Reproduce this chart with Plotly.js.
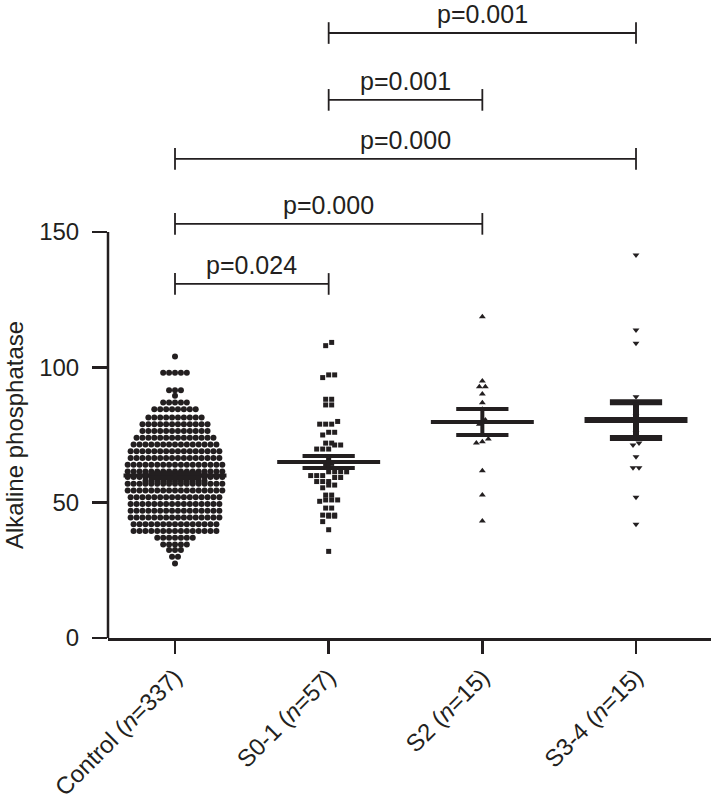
<!DOCTYPE html>
<html><head><meta charset="utf-8">
<script src="https://cdn.plot.ly/plotly-3.0.1.min.js"></script>
<style>body{margin:0;background:#fff}#chart{width:711px;height:800px}</style>
</head><body><div id="chart"></div>
<script>
// ---------- data ----------
const categories = ['Control (<i>n</i>=337)', 'S0-1 (<i>n</i>=57)', 'S2 (<i>n</i>=15)', 'S3-4 (<i>n</i>=15)'];
// Control dot-plot: value of each row of dots and how many dots sit in it
const controlRowValues = [104, 98, 91.5, 89.5, 87, 84.5, 81.5, 79, 76.5, 74, 71.5, 69, 66.5, 64, 61.5, 60.5, 59.5, 58, 57, 54.5, 52, 49.5, 47, 44.5, 42, 39.5, 37, 34.5, 32.5, 30, 27.5];
const controlRowCounts = [1, 5, 3, 1, 5, 8, 10, 12, 12, 14, 15, 16, 16, 17, 17, 11, 17, 11, 17, 17, 16, 16, 16, 16, 15, 15, 7, 5, 3, 2, 1];
const s01Values = [109.2, 108.0, 97.2, 96.2, 97.2, 88.2, 86.1, 86.1, 88.2, 79, 79, 79, 80, 76, 75, 76, 72, 72, 71.3, 71.3, 69.8, 69.8, 69.8,
  66.5, 64.5, 63.5, 61.4, 61.4, 61.4, 61.4, 60, 60, 60, 59.3, 59.3, 57.8, 57.8, 57.8, 56.5, 56.5, 55.5, 52.8, 52.8, 51, 51, 51, 50.5,
  48, 48, 45.4, 45.4, 45.4, 45, 45, 43, 40, 32];
const s2Values = [118.7, 94.9, 92.8, 92.8, 90.1, 86.9, 84.5, 80.5, 79, 73.5, 72.5, 72, 61.8, 52.8, 43.2];
const s34Values = [141.5, 113.8, 108.9, 89.1, 86, 82, 80, 75.9, 72, 71.3, 67, 62.9, 62.9, 52, 42];
const groupMeans = [60, 65, 79.8, 80.5];
const groupSems = [0.9, 2.2, 4.8, 6.6];
const comparisonPairs = [[0, 1], [0, 2], [0, 3], [1, 2], [1, 3]];
const comparisonP = ['p=0.024', 'p=0.000', 'p=0.000', 'p=0.001', 'p=0.001'];
const yTicks = [0, 50, 100, 150];

// ---------- layout helpers ----------
const INK = '#231f20';
const FONT = 'Liberation Sans, Arial, Helvetica, sans-serif';
const bracketLevels = [130.8, 153, 177, 198.8, 223.5];

function expandRows(vals, counts) {
  const out = [];
  vals.forEach((v, i) => { for (let k = 0; k < counts[i]; k++) out.push(v); });
  return out;
}
// place points of close value side by side (dot-plot layout)
function swarm(vals, center, thresh, dx) {
  const order = vals.map((v, i) => i).sort((a, b) => vals[a] - vals[b]);
  const xs = new Array(vals.length);
  let cluster = [];
  const flush = () => {
    const n = cluster.length;
    cluster.forEach((i, j) => { xs[i] = center + (j - (n - 1) / 2) * dx; });
    cluster = [];
  };
  order.forEach(i => {
    if (cluster.length && vals[i] - vals[cluster[0]] > thresh) flush();
    cluster.push(i);
  });
  flush();
  return xs;
}

const controlValues = expandRows(controlRowValues, controlRowCounts);
const groups = [
  {vals: controlValues, thresh: 0.3, dx: 0.0385, symbol: 'circle', size: 6},
  {vals: s01Values, thresh: 2.0, dx: 0.039, symbol: 'square', size: 5},
  {vals: s2Values, thresh: 1.5, dx: 0.039, symbol: 'triangle-up', size: 6},
  {vals: s34Values, thresh: 1.5, dx: 0.039, symbol: 'triangle-down', size: 6}
];
const traces = [];
groups.forEach((g, i) => {
  traces.push({
    type: 'scatter', mode: 'markers',
    x: swarm(g.vals, i, g.thresh, g.dx), y: g.vals,
    marker: {symbol: g.symbol, size: g.size, color: INK, line: {width: 0}},
    hoverinfo: 'y', showlegend: false, cliponaxis: false
  });
});
// mean and SEM bars
const meanHalf = 0.335, capHalf = 0.17, barWidths = [4, 4, 4, 6];
groupMeans.forEach((m, i) => {
  const s = groupSems[i];
  traces.push({
    type: 'scatter', mode: 'lines',
    x: [i - meanHalf, i + meanHalf, null, i - capHalf, i + capHalf, null, i - capHalf, i + capHalf, null, i, i],
    y: [m, m, null, m + s, m + s, null, m - s, m - s, null, m - s, m + s],
    line: {color: INK, width: barWidths[i]},
    hoverinfo: 'skip', showlegend: false, cliponaxis: false
  });
});

// significance brackets
const shapes = [
  {type: 'line', xref: 'paper', yref: 'y', x0: 0, x1: 0, y0: 0, y1: 150, line: {color: INK, width: 2.5}}
];
const annotations = [];
comparisonPairs.forEach((p, k) => {
  const lv = bracketLevels[k];
  shapes.push({type: 'line', xref: 'x', yref: 'y', x0: p[0], x1: p[1], y0: lv, y1: lv, line: {color: INK, width: 1.8}});
  shapes.push({type: 'line', xref: 'x', yref: 'y', x0: p[0], x1: p[0], y0: lv - 4, y1: lv + 4, line: {color: INK, width: 1.8}});
  shapes.push({type: 'line', xref: 'x', yref: 'y', x0: p[1], x1: p[1], y0: lv - 4, y1: lv + 4, line: {color: INK, width: 1.8}});
  annotations.push({
    xref: 'x', yref: 'y', x: (p[0] + p[1]) / 2, y: lv, yanchor: 'bottom', yshift: 3,
    text: comparisonP[k], showarrow: false, font: {family: FONT, size: 25, color: INK}
  });
});
annotations.push({
  xref: 'paper', yref: 'y', x: 0, y: 75, xanchor: 'center', yanchor: 'middle', xshift: -93, textangle: -90,
  text: 'Alkaline phosphatase', showarrow: false, font: {family: FONT, size: 24, color: INK}
});

const layout = {
  width: 711, height: 800,
  margin: {l: 108, r: 0, t: 0, b: 162},
  paper_bgcolor: '#fff', plot_bgcolor: '#fff',
  font: {family: FONT, size: 24, color: INK},
  xaxis: {
    range: [-0.436, 3.488], tickmode: 'array', tickvals: [0, 1, 2, 3], ticktext: categories,
    tickangle: -45, ticks: 'outside', ticklen: 13, tickwidth: 2.5, tickcolor: INK,
    showline: true, linewidth: 2.5, linecolor: INK, showgrid: false, zeroline: false,
    tickfont: {family: FONT, size: 24, color: INK}, fixedrange: true
  },
  yaxis: {
    range: [0, 235.7], tickmode: 'array', tickvals: yTicks,
    ticks: 'outside', ticklen: 15, tickwidth: 2.5, tickcolor: INK, ticklabelstandoff: 8,
    showline: false, showgrid: false, zeroline: false,
    tickfont: {family: FONT, size: 24, color: INK}, fixedrange: true
  },
  shapes: shapes, annotations: annotations, showlegend: false
};
Plotly.newPlot('chart', traces, layout, {displayModeBar: false, staticPlot: true});
</script></body></html>
